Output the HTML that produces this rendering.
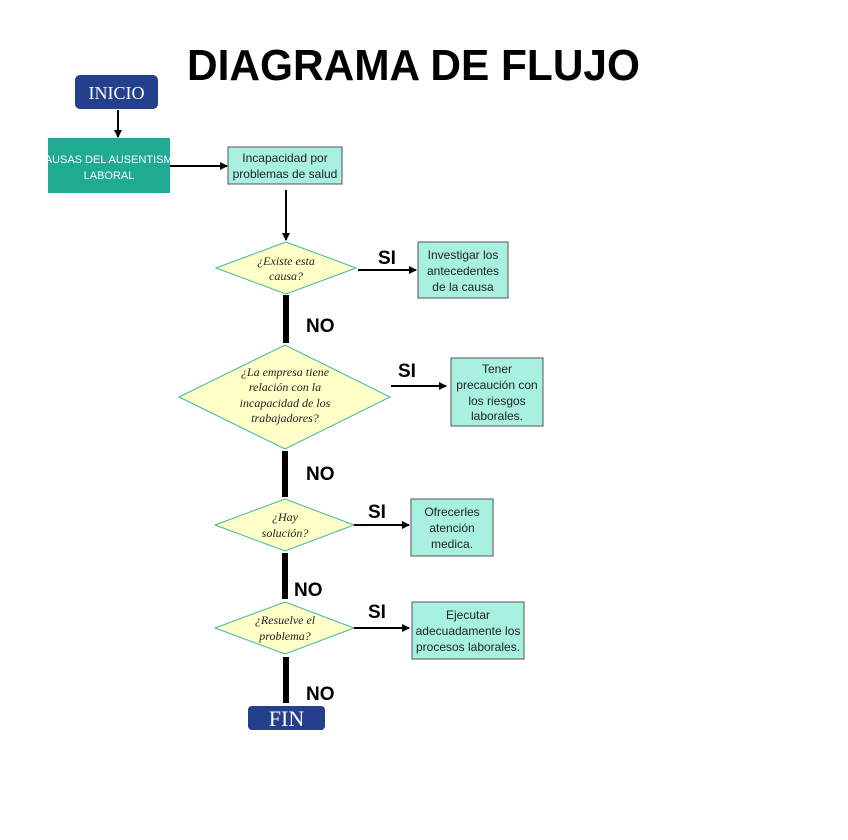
<!DOCTYPE html>
<html><head><meta charset="utf-8"><style>
html,body{margin:0;padding:0;background:#fff;width:848px;height:840px;overflow:hidden}
svg{display:block}
.b{font-family:"Liberation Sans",sans-serif;font-size:12px;fill:#222;text-anchor:middle}
.d{font-family:"Liberation Serif",serif;font-style:italic;font-size:12px;fill:#222;text-anchor:middle}
.lab{font-family:"Liberation Sans",sans-serif;font-weight:bold;font-size:19px;fill:#000}
</style></head><body>
<svg width="848" height="840" viewBox="0 0 848 840" xmlns="http://www.w3.org/2000/svg">
<defs><marker id="a" markerWidth="8" markerHeight="8" refX="7" refY="4" orient="auto" markerUnits="userSpaceOnUse"><path d="M0,0 L8,4 L0,8 z" fill="#000"/></marker></defs>
<text x="187" y="80" font-family="Liberation Sans,sans-serif" font-weight="bold" font-size="44" textLength="453" lengthAdjust="spacingAndGlyphs" fill="#000">DIAGRAMA DE FLUJO</text>
<rect x="75" y="75" width="83" height="34" rx="5" fill="#243F8C"/>
<text x="116.5" y="99" font-family="Liberation Serif,serif" font-size="18" fill="#fff" text-anchor="middle">INICIO</text>
<line x1="118" y1="110" x2="118" y2="137" stroke="#000" stroke-width="2" marker-end="url(#a)"/>
<rect x="48" y="138" width="122" height="55" fill="#1FAA92"/>
<text x="109" y="163" font-family="Liberation Sans,sans-serif" font-size="11" fill="#fff" text-anchor="middle">CAUSAS DEL AUSENTISMO</text>
<text x="109" y="179" font-family="Liberation Sans,sans-serif" font-size="11" fill="#fff" text-anchor="middle">LABORAL</text>
<line x1="170" y1="166" x2="227" y2="166" stroke="#000" stroke-width="2" marker-end="url(#a)"/>
<rect x="228" y="147" width="114" height="37" fill="#A8F0E0" stroke="#555"/>
<text class="b" x="285" y="162">Incapacidad por</text><text class="b" x="285" y="178">problemas de salud</text>
<line x1="286" y1="190" x2="286" y2="240" stroke="#000" stroke-width="2" marker-end="url(#a)"/>
<polygon points="216,268 286,242 356,268 286,294" fill="#FFFFC8" stroke="#3CB8A0"/>
<text class="d" x="286" y="265">¿Existe esta</text><text class="d" x="286" y="280">causa?</text>
<line x1="358" y1="270" x2="416" y2="270" stroke="#000" stroke-width="2" marker-end="url(#a)"/>
<text class="lab" x="378" y="264">SI</text>
<rect x="418" y="242" width="90" height="56" fill="#A8F0E0" stroke="#555"/>
<text class="b" x="463" y="259">Investigar los</text><text class="b" x="463" y="275">antecedentes</text><text class="b" x="463" y="291">de la causa</text>
<line x1="286" y1="295" x2="286" y2="343" stroke="#000" stroke-width="6"/>
<text class="lab" x="306" y="332">NO</text>
<polygon points="179,397 285,345 390,397 285,449" fill="#FFFFC8" stroke="#3CB8A0"/>
<text class="d" x="285" y="376">¿La empresa tiene</text><text class="d" x="285" y="391">relación con la</text><text class="d" x="285" y="407">incapacidad de los</text><text class="d" x="285" y="422">trabajadores?</text>
<line x1="391" y1="386" x2="446" y2="386" stroke="#000" stroke-width="2" marker-end="url(#a)"/>
<text class="lab" x="398" y="377">SI</text>
<rect x="451" y="358" width="92" height="68" fill="#A8F0E0" stroke="#555"/>
<text class="b" x="497" y="373">Tener</text><text class="b" x="497" y="389">precaución con</text><text class="b" x="497" y="405">los riesgos</text><text class="b" x="497" y="420">laborales.</text>
<line x1="285" y1="451" x2="285" y2="497" stroke="#000" stroke-width="6"/>
<text class="lab" x="306" y="480">NO</text>
<polygon points="215,525 285,499 354,525 285,551" fill="#FFFFC8" stroke="#3CB8A0"/>
<text class="d" x="285" y="521">¿Hay</text><text class="d" x="285" y="537">solución?</text>
<line x1="354" y1="525" x2="409" y2="525" stroke="#000" stroke-width="2" marker-end="url(#a)"/>
<text class="lab" x="368" y="518">SI</text>
<rect x="411" y="499" width="82" height="57" fill="#A8F0E0" stroke="#555"/>
<text class="b" x="452" y="516">Ofrecerles</text><text class="b" x="452" y="532">atención</text><text class="b" x="452" y="548">medica.</text>
<line x1="285" y1="553" x2="285" y2="599" stroke="#000" stroke-width="6"/>
<text class="lab" x="294" y="596">NO</text>
<polygon points="215,628 285,602 354,628 285,654" fill="#FFFFC8" stroke="#3CB8A0"/>
<text class="d" x="285" y="624">¿Resuelve el</text><text class="d" x="285" y="640">problema?</text>
<line x1="354" y1="628" x2="409" y2="628" stroke="#000" stroke-width="2" marker-end="url(#a)"/>
<text class="lab" x="368" y="618">SI</text>
<rect x="412" y="602" width="112" height="57" fill="#A8F0E0" stroke="#555"/>
<text class="b" x="468" y="619">Ejecutar</text><text class="b" x="468" y="635">adecuadamente los</text><text class="b" x="468" y="651">procesos laborales.</text>
<line x1="286" y1="657" x2="286" y2="703" stroke="#000" stroke-width="6"/>
<text class="lab" x="306" y="700">NO</text>
<rect x="248" y="706" width="77" height="24" rx="4" fill="#243F8C"/>
<text x="286.5" y="726" font-family="Liberation Serif,serif" font-size="22" fill="#fff" text-anchor="middle">FIN</text>
</svg>
</body></html>
